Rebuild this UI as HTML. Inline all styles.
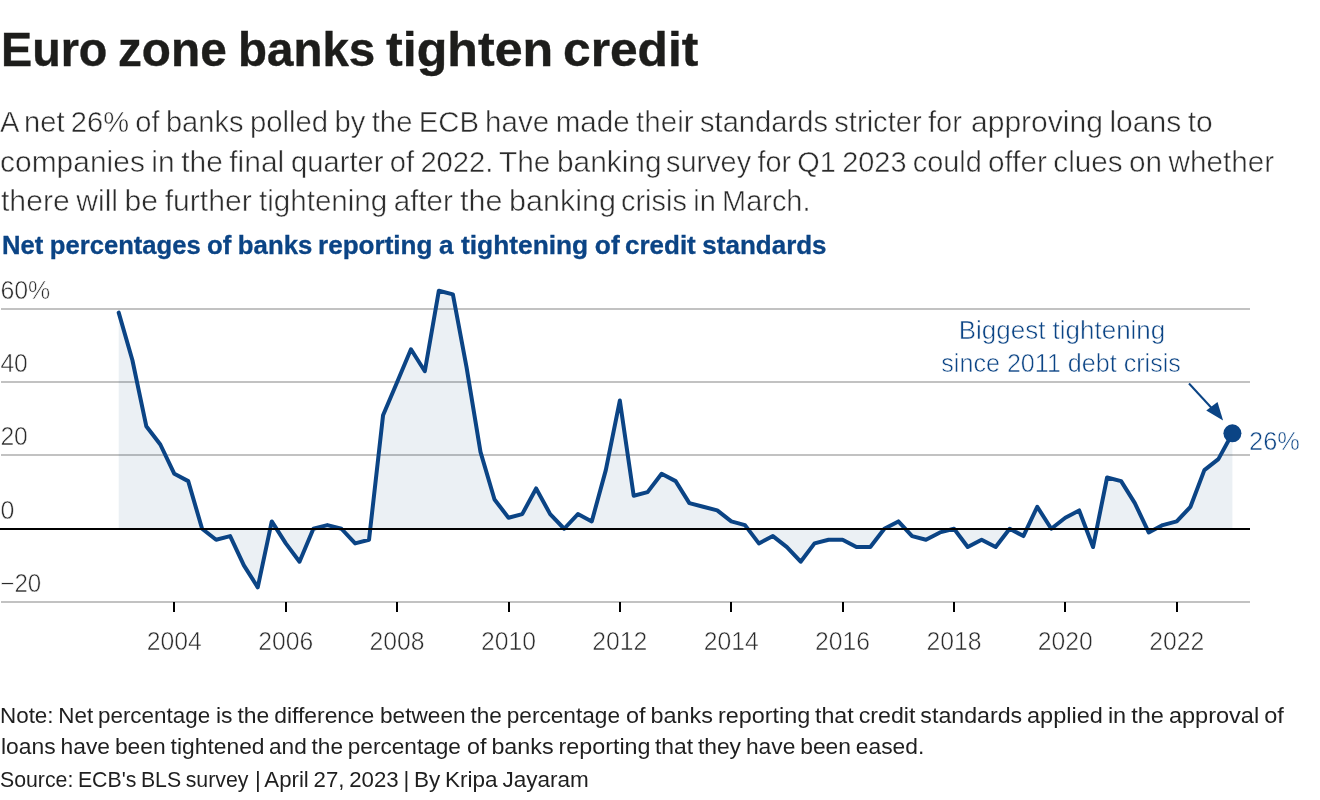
<!DOCTYPE html>
<html lang="en">
<head>
<meta charset="utf-8">
<title>Euro zone banks tighten credit</title>
<style>
html,body{margin:0;padding:0;background:#fff;}
body{width:1320px;height:800px;position:relative;overflow:hidden;font-family:"Liberation Sans",sans-serif;color:#1d1d1b;}
h1,p{margin:0;font-size:inherit;font-weight:inherit;}
.sg{position:absolute;white-space:nowrap;transform-origin:0 0;line-height:1;display:block;}
.title{font-weight:700;font-size:48.2px;color:#1d1d1b;-webkit-text-stroke:0.4px #1d1d1b;}
.desc{font-weight:400;font-size:29.5px;color:#2b2b2b;-webkit-text-stroke:0.5px #fff;word-spacing:-1.8px;}
.head{font-weight:700;font-size:24.9px;color:#0b4485;word-spacing:-0.6px;-webkit-text-stroke:0.3px #0b4485;}
.foot{font-weight:400;font-size:21.7px;color:#1f1f1f;word-spacing:-1.4px;}
svg{position:absolute;left:0;top:0;}
svg text{font-family:"Liberation Sans",sans-serif;font-size:25.5px;fill:#2b2b2b;stroke:#fff;stroke-width:0.55px;}
svg text.an{fill:#0b4485;}
.grid rect{fill:#c2c2c2;}
.ticks rect{fill:#000;}
</style>
</head>
<body>
<header class="title"><h1><span class="sg" style="left:0.89px;top:25.10px;transform:scaleX(0.9686)">Euro</span> <span class="sg" style="left:117.77px;top:25.10px;transform:scaleX(0.9906)">zone</span> <span class="sg" style="left:237.54px;top:25.10px;transform:scaleX(0.9851)">banks</span> <span class="sg" style="left:385.73px;top:25.10px;transform:scaleX(1.0413)">tighten</span> <span class="sg" style="left:562.70px;top:25.10px;transform:scaleX(1.0310)">credit</span></h1></header>
<div class="desc"><p><span class="sg" style="left:0.26px;top:107.03px;transform:scaleX(0.9857)">A net 26% of banks</span> <span class="sg" style="left:250.27px;top:107.03px;transform:scaleX(0.9923)">polled by the ECB</span> <span class="sg" style="left:485.24px;top:107.03px;transform:scaleX(1.0037)">have made their</span> <span class="sg" style="left:700.02px;top:107.03px;transform:scaleX(0.9877)">standards stricter for</span> <span class="sg" style="left:970.97px;top:107.03px;transform:scaleX(1.0181)">approving loans to</span>
<span class="sg" style="left:0.48px;top:147.03px;transform:scaleX(1.0154)">companies in the final</span> <span class="sg" style="left:290.52px;top:147.03px;transform:scaleX(0.9888)">quarter of 2022.</span> <span class="sg" style="left:498.99px;top:147.03px;transform:scaleX(1.0127)">The banking</span> <span class="sg" style="left:666.28px;top:147.03px;transform:scaleX(0.9796)">survey for Q1 2023 could</span> <span class="sg" style="left:988.49px;top:147.03px;transform:scaleX(1.0067)">offer clues on whether</span>
<span class="sg" style="left:1.23px;top:186.43px;transform:scaleX(1.0215)">there will be further</span> <span class="sg" style="left:259.25px;top:186.43px;transform:scaleX(1.0026)">tightening after</span> <span class="sg" style="left:459.97px;top:186.43px;transform:scaleX(1.0355)">the banking</span> <span class="sg" style="left:621.03px;top:186.43px;transform:scaleX(0.9814)">crisis in March.</span></p></div>
<div class="head"><p><span class="sg" style="left:2.16px;top:233.02px;transform:scaleX(1.0291)">Net percentages</span> <span class="sg" style="left:207.22px;top:233.02px;transform:scaleX(1.0350)">of banks</span> <span class="sg" style="left:317.63px;top:233.02px;transform:scaleX(1.0472)">reporting a</span> <span class="sg" style="left:461.14px;top:233.02px;transform:scaleX(1.0573)">tightening of</span> <span class="sg" style="left:625.47px;top:233.02px;transform:scaleX(1.0441)">credit standards</span></p></div>
<svg width="1320" height="800" viewBox="0 0 1320 800">
<g class="grid"><rect x="1" y="308" width="1249" height="2"/><rect x="1" y="381" width="1249" height="2"/><rect x="1" y="454" width="1249" height="2"/><rect x="1" y="601" width="1249" height="2"/></g>
<path d="M118.70,312.66 L132.42,360.27 L146.29,426.20 L160.32,444.51 L174.35,473.81 L188.22,481.14 L202.09,528.75 L216.12,539.74 L230.15,536.08 L243.87,565.38 L257.74,587.35 L271.77,521.42 L285.79,543.40 L299.51,561.71 L313.39,528.75 L327.41,525.09 L341.44,528.75 L355.16,543.40 L369.03,539.74 L383.06,415.21 L397.09,382.25 L410.96,349.29 L424.83,371.26 L438.86,290.69 L452.89,294.35 L466.61,367.60 L480.48,451.84 L494.51,499.45 L508.53,517.76 L522.25,514.10 L536.13,488.46 L550.15,514.10 L564.18,528.75 L577.90,514.10 L591.77,521.42 L605.80,470.15 L619.83,400.56 L633.70,495.79 L647.57,492.12 L661.60,473.81 L675.63,481.14 L689.35,503.11 L703.22,506.77 L717.25,510.44 L731.27,521.42 L744.99,525.09 L758.87,543.40 L772.89,536.08 L786.92,547.06 L800.64,561.71 L814.51,543.40 L828.54,539.74 L842.57,539.74 L856.44,547.06 L870.31,547.06 L884.34,528.75 L898.37,521.42 L912.09,536.08 L925.96,539.74 L939.99,532.41 L954.01,528.75 L967.73,547.06 L981.61,539.74 L995.63,547.06 L1009.66,528.75 L1023.38,536.08 L1037.25,506.77 L1051.28,528.75 L1065.31,517.76 L1079.18,510.44 L1093.05,547.06 L1107.08,477.48 L1121.11,481.14 L1134.83,503.11 L1148.70,532.41 L1162.73,525.09 L1176.75,521.42 L1190.47,506.77 L1204.35,470.15 L1218.37,459.16 L1232.40,433.52 L1232.40,528.75 L118.70,528.75 Z" fill="#144e7e" fill-opacity="0.085" stroke="none"/>
<path d="M118.70,312.66 L132.42,360.27 L146.29,426.20 L160.32,444.51 L174.35,473.81 L188.22,481.14 L202.09,528.75 L216.12,539.74 L230.15,536.08 L243.87,565.38 L257.74,587.35 L271.77,521.42 L285.79,543.40 L299.51,561.71 L313.39,528.75 L327.41,525.09 L341.44,528.75 L355.16,543.40 L369.03,539.74 L383.06,415.21 L397.09,382.25 L410.96,349.29 L424.83,371.26 L438.86,290.69 L452.89,294.35 L466.61,367.60 L480.48,451.84 L494.51,499.45 L508.53,517.76 L522.25,514.10 L536.13,488.46 L550.15,514.10 L564.18,528.75 L577.90,514.10 L591.77,521.42 L605.80,470.15 L619.83,400.56 L633.70,495.79 L647.57,492.12 L661.60,473.81 L675.63,481.14 L689.35,503.11 L703.22,506.77 L717.25,510.44 L731.27,521.42 L744.99,525.09 L758.87,543.40 L772.89,536.08 L786.92,547.06 L800.64,561.71 L814.51,543.40 L828.54,539.74 L842.57,539.74 L856.44,547.06 L870.31,547.06 L884.34,528.75 L898.37,521.42 L912.09,536.08 L925.96,539.74 L939.99,532.41 L954.01,528.75 L967.73,547.06 L981.61,539.74 L995.63,547.06 L1009.66,528.75 L1023.38,536.08 L1037.25,506.77 L1051.28,528.75 L1065.31,517.76 L1079.18,510.44 L1093.05,547.06 L1107.08,477.48 L1121.11,481.14 L1134.83,503.11 L1148.70,532.41 L1162.73,525.09 L1176.75,521.42 L1190.47,506.77 L1204.35,470.15 L1218.37,459.16 L1232.40,433.52" fill="none" stroke="#0b4485" stroke-width="4" stroke-linejoin="round" stroke-linecap="round"/>
<rect x="0" y="528" width="1250" height="2" fill="#000"/>
<g class="ticks"><rect x="173" y="602" width="2" height="10"/><rect x="285" y="602" width="2" height="10"/><rect x="396" y="602" width="2" height="10"/><rect x="508" y="602" width="2" height="10"/><rect x="619" y="602" width="2" height="10"/><rect x="730" y="602" width="2" height="10"/><rect x="842" y="602" width="2" height="10"/><rect x="953" y="602" width="2" height="10"/><rect x="1064" y="602" width="2" height="10"/><rect x="1176" y="602" width="2" height="10"/></g>
<g class="xl"><text x="174.35" y="650" text-anchor="middle" textLength="55" lengthAdjust="spacingAndGlyphs">2004</text><text x="285.79" y="650" text-anchor="middle" textLength="55" lengthAdjust="spacingAndGlyphs">2006</text><text x="397.09" y="650" text-anchor="middle" textLength="55" lengthAdjust="spacingAndGlyphs">2008</text><text x="508.53" y="650" text-anchor="middle" textLength="55" lengthAdjust="spacingAndGlyphs">2010</text><text x="619.83" y="650" text-anchor="middle" textLength="55" lengthAdjust="spacingAndGlyphs">2012</text><text x="731.27" y="650" text-anchor="middle" textLength="55" lengthAdjust="spacingAndGlyphs">2014</text><text x="842.57" y="650" text-anchor="middle" textLength="55" lengthAdjust="spacingAndGlyphs">2016</text><text x="954.01" y="650" text-anchor="middle" textLength="55" lengthAdjust="spacingAndGlyphs">2018</text><text x="1065.31" y="650" text-anchor="middle" textLength="55" lengthAdjust="spacingAndGlyphs">2020</text><text x="1176.75" y="650" text-anchor="middle" textLength="55" lengthAdjust="spacingAndGlyphs">2022</text></g>
<g class="yl"><text x="0.4" y="298.70" textLength="49.9" lengthAdjust="spacingAndGlyphs">60%</text><text x="0.4" y="371.95" textLength="27.4" lengthAdjust="spacingAndGlyphs">40</text><text x="0.4" y="445.20" textLength="27.4" lengthAdjust="spacingAndGlyphs">20</text><text x="0.4" y="519.05" textLength="13.9" lengthAdjust="spacingAndGlyphs">0</text><text x="0.4" y="591.70" textLength="40.9" lengthAdjust="spacingAndGlyphs">−20</text></g>
<circle cx="1232.4" cy="433.3" r="9" fill="#0b4485"/>
<text class="an" x="1249.1" y="449.8" textLength="50.8" lengthAdjust="spacingAndGlyphs">26%</text>
<text class="an" x="1062" y="339.4" text-anchor="middle" textLength="206.5" lengthAdjust="spacingAndGlyphs">Biggest tightening</text>
<text class="an" x="1061.1" y="371.5" text-anchor="middle" textLength="239.6" lengthAdjust="spacingAndGlyphs">since 2011 debt crisis</text>
<path d="M1189,383.5 L1213,409.5" stroke="#0b4485" stroke-width="2" fill="none"/>
<path d="M1223.1,420.6 L1206.25,410.6 L1217.5,401.9 Z" fill="#0b4485"/>
</svg>
<footer class="foot">
<p><span class="sg" style="left:0.29px;top:705.33px;transform:scaleX(1.0331)">Note: Net percentage</span> <span class="sg" style="left:216.42px;top:705.33px;transform:scaleX(1.0559)">is the difference</span> <span class="sg" style="left:379.68px;top:705.33px;transform:scaleX(1.0440)">between the percentage</span> <span class="sg" style="left:625.92px;top:705.33px;transform:scaleX(1.0786)">of banks reporting</span> <span class="sg" style="left:815.23px;top:705.33px;transform:scaleX(1.0698)">that credit standards</span> <span class="sg" style="left:1027.22px;top:705.33px;transform:scaleX(1.0846)">applied in the approval of</span>
<span class="sg" style="left:0.52px;top:735.63px;transform:scaleX(1.0532)">loans have been tightened</span> <span class="sg" style="left:268.96px;top:735.63px;transform:scaleX(1.0425)">and the percentage</span> <span class="sg" style="left:467.18px;top:735.63px;transform:scaleX(1.0742)">of banks reporting</span> <span class="sg" style="left:654.74px;top:735.63px;transform:scaleX(1.0518)">that they have been eased.</span></p>
<p><span class="sg" style="left:0.42px;top:769.13px;transform:scaleX(0.9815)">Source: ECB&#x27;s BLS survey</span> <span class="sg" style="left:254.70px;top:769.13px;transform:scaleX(1.0256)">| April 27, 2023 |</span> <span class="sg" style="left:413.93px;top:769.13px;transform:scaleX(1.0381)">By Kripa Jayaram</span></p>
</footer>
</body>
</html>
